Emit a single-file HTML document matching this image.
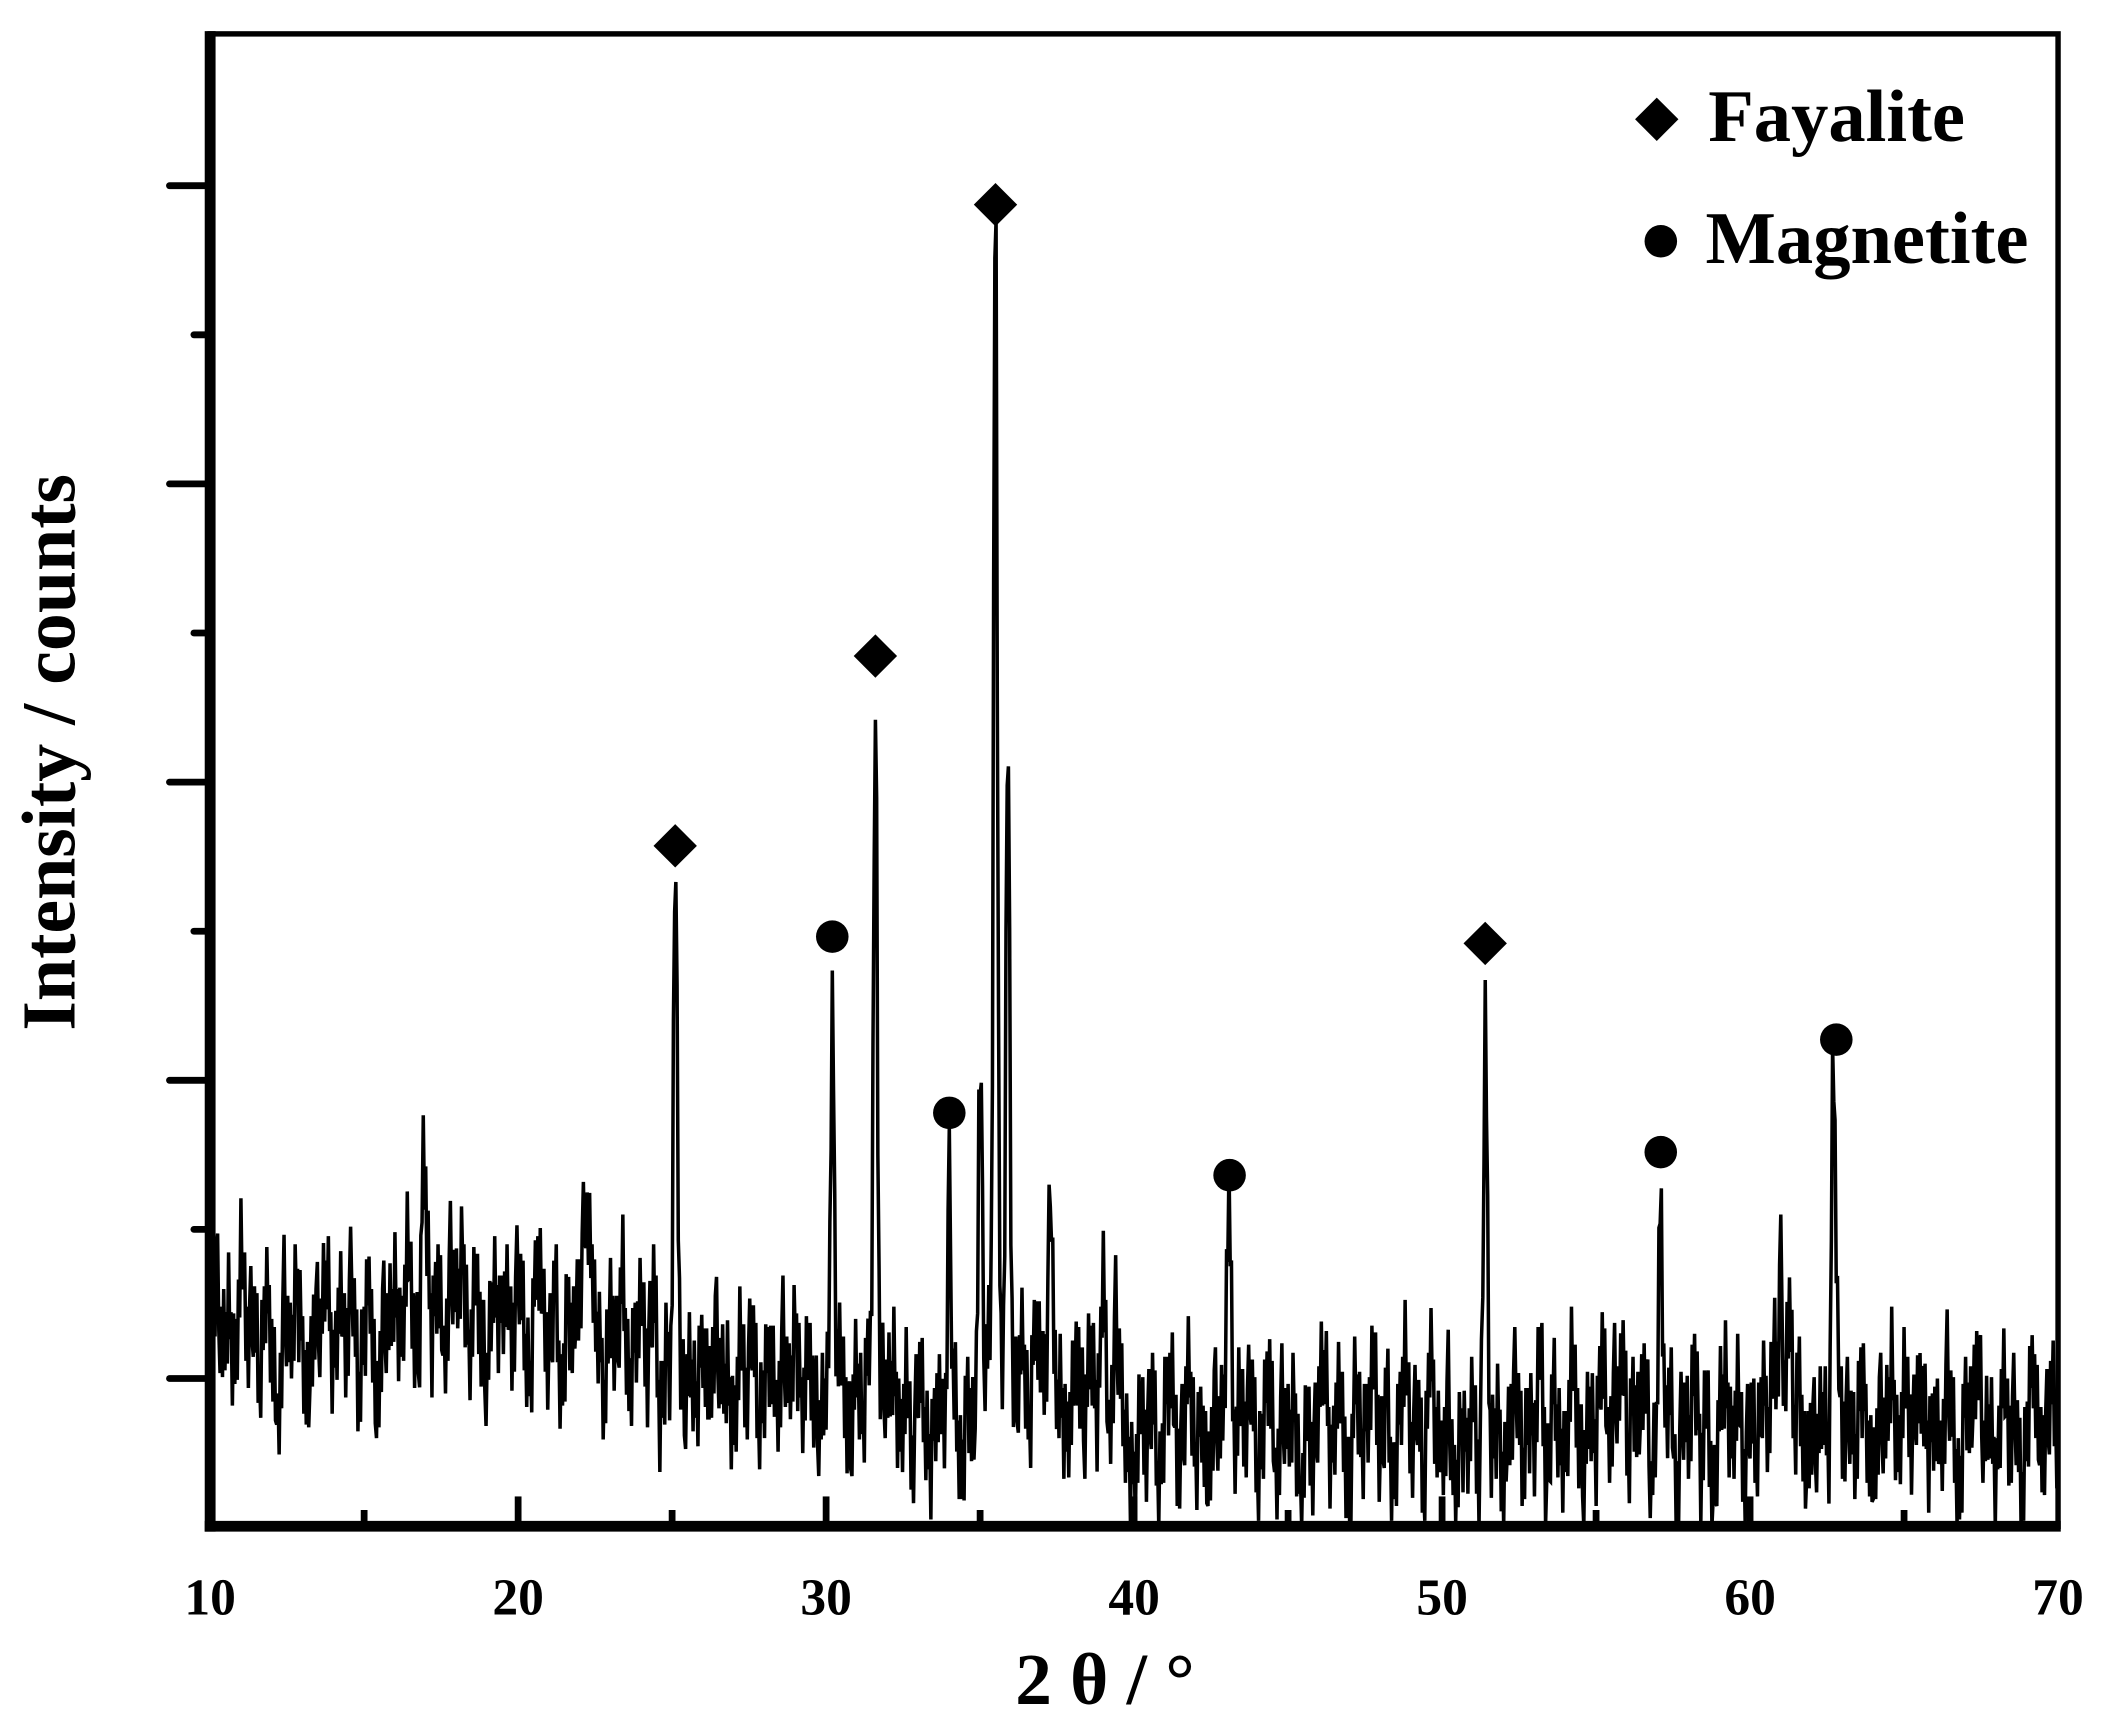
<!DOCTYPE html>
<html><head><meta charset="utf-8"><style>
html,body{margin:0;padding:0;background:#fff}
svg{display:block}
text{font-family:"Liberation Serif",serif;font-weight:bold;fill:#000}
</style></head><body>
<svg id="chart" width="2115" height="1735" viewBox="0 0 1560 1280" preserveAspectRatio="none" xmlns="http://www.w3.org/2000/svg">
<g id="axes"></g>
<path id="pattern" fill="none" stroke="#000" stroke-width="2.6" stroke-linejoin="miter"/>
<g id="markers"></g>
<g>
<path d="M1222,72 L1238,88 L1222,104 L1206,88 Z" fill="#000"/>
<text x="1260" y="104" font-size="55">Fayalite</text>
<circle cx="1225" cy="178" r="12" fill="#000"/>
<text x="1258" y="194" font-size="55">Magnetite</text>
</g>
<text transform="translate(55,555) rotate(-90)" text-anchor="middle" font-size="56">Intensity / counts</text>
<text x="815" y="1257" text-anchor="middle" font-size="54">2 θ / °</text>
</svg>
<script>
const xTicks=[10,20,30,40,50,60,70];
const bgStart=10, bgStep=0.2;
const background=[
150,190,120,170,110,200,140,160,105,180,
135,60,175,120,190,130,85,165,140,200,
110,170,125,195,95,150,180,65,160,140,
185,130,205,150,120,240,140,190,110,200,
160,215,120,175,145,100,190,150,175,130,
195,140,110,205,160,120,180,95,165,135,
175,240,120,150,90,160,130,185,105,140,
160,115,180,80,130,100,150,85,120,95,
140,80,155,100,120,65,135,95,150,75,
110,130,70,145,90,160,85,120,100,65,
110,75,130,95,60,120,80,140,70,115,
90,130,60,105,45,115,80,50,95,70,
55,90,40,100,60,80,120,150,130,110,
120,95,140,70,160,100,130,85,110,60,
95,125,70,140,85,110,55,160,90,60,
30,80,60,100,25,90,115,45,70,120,
50,85,15,100,60,130,40,90,70,110,
35,80,120,20,95,60,105,10,75,50,
90,130,40,100,70,15,115,60,85,120,
45,100,30,80,125,55,95,20,140,70,
40,105,15,80,55,90,30,110,60,85,
25,75,115,40,90,60,135,20,100,70,
45,120,80,30,95,60,140,50,110,75,
35,100,65,125,20,85,55,110,10,90,
60,130,40,95,5,80,120,55,100,35,
85,50,110,70,130,40,95,60,115,25,
80,55,100,30,140,65,90,45,120,70,
20,95,60,130,45,105,75,15,110,55,
85,40,120,65,25,100,70,135,50,90,
30,115,60,95,20,80,125,45,70,100,60];
const jitter=[0,38,-30,22,-42,15,40,-18,-35,28,-10,45,-25,8,-40,32,-20,12,-45,35,-5,25,-38,18,-28,42,-12];
const peakPos=[16.9,22.4,25.1,30.2,31.6,34.0,35.0,35.5,35.9,37.3,39.0,43.1,51.4,55.9,57.1,61.0,61.3,62.7,65.4];
const peakAmp=[70,80,365,300,525,200,280,860,470,150,90,170,265,90,180,150,100,270,80];
const fayaliteX=[25.1,31.6,35.5,51.4];
const fayaliteY=[502,642,975,430];
const magnetiteX=[30.2,34.0,43.1,57.1,62.8];
const magnetiteY=[435,305,259,276,359];

const X0=155,X1=1518,Y0=1126,YT=25;
const sx=v=>X0+(v-10)/(70-10)*(X1-X0);
const sy=v=>Y0-v;
const NS='http://www.w3.org/2000/svg';
const axes=document.getElementById('axes');
function mk(tag,attrs,parent){const e=document.createElementNS(NS,tag);for(const k in attrs)e.setAttribute(k,attrs[k]);parent.appendChild(e);return e;}
let f=mk('rect',{x:X0,y:YT,width:X1-X0,height:Y0-YT,fill:'none',stroke:'#000','stroke-width':4},axes);


let la=mk('line',{x1:X0,y1:YT-2,x2:X0,y2:Y0+4,stroke:'#000','stroke-width':8},axes);


let ba=mk('line',{x1:X0-4,y1:Y0,x2:X1+2,y2:Y0,stroke:'#000','stroke-width':8},axes);


for(let i=0;i<9;i++){const y=137+i*110;const major=i%2===0;
 let t=mk('line',{x1:major?125:143,y1:y,x2:X0,y2:y,stroke:'#000','stroke-width':5,'stroke-linecap':'round'},axes);
 
 }
for(let v=15;v<70;v+=5){const major=v%10===0;
 let t=mk('line',{x1:sx(v),y1:Y0,x2:sx(v),y2:Y0-(major?22:12),stroke:'#000','stroke-width':5},axes);
 
 }
xTicks.forEach(v=>{let t=mk('text',{x:sx(v),y:1191,'text-anchor':'middle','font-size':38},axes);t.textContent=v;
 
 });
function bgAt(x){const p=(x-bgStart)/bgStep;const i=Math.min(Math.floor(p),background.length-2);const fr=p-i;return background[i]*(1-fr)+background[i+1]*fr;}
let d='';
for(let k=0;k<=1500;k++){const x=10+k*0.04;let v=bgAt(x)+jitter[k%jitter.length];
 peakPos.forEach((p,j)=>{const dx=(x-p)/0.06;v+=peakAmp[j]*Math.exp(-0.5*dx*dx);});
 v=Math.max(0,v);
 d+=(k?'L':'M')+sx(x).toFixed(1)+','+sy(v).toFixed(1);}
document.getElementById('pattern').setAttribute('d',d);
const mg=document.getElementById('markers');
fayaliteX.forEach((x,i)=>{const cx=sx(x),cy=sy(fayaliteY[i]);
 let m=mk('path',{d:`M${cx},${cy-16}L${cx+16},${cy}L${cx},${cy+16}L${cx-16},${cy}Z`,fill:'#000'},mg);
 
 });
magnetiteX.forEach((x,i)=>{
 let m=mk('circle',{cx:sx(x),cy:sy(magnetiteY[i]),r:12,fill:'#000'},mg);
 
 });
</script>
</body></html>
